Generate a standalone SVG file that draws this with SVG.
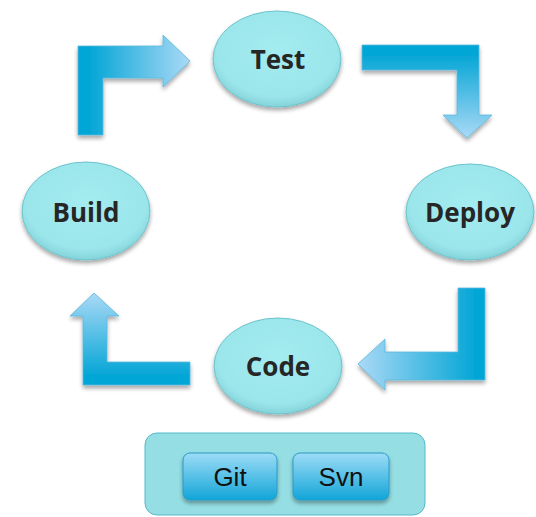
<svg xmlns="http://www.w3.org/2000/svg" width="536" height="517" viewBox="0 0 536 517">
  <defs>
    <radialGradient id="ovalFill" cx="50%" cy="42%" r="60%">
      <stop offset="0" stop-color="#a3ecf0"/>
      <stop offset="0.78" stop-color="#9be6eb"/>
      <stop offset="1" stop-color="#80d0d7"/>
    </radialGradient>
    <linearGradient id="btnFill" x1="0" y1="0" x2="0" y2="1">
      <stop offset="0" stop-color="#9ddcf6"/>
      <stop offset="1" stop-color="#12a5d8"/>
    </linearGradient>
    <linearGradient id="arrRight" gradientUnits="userSpaceOnUse" x1="90" y1="0" x2="190" y2="0">
      <stop offset="0" stop-color="#05a6d6"/>
      <stop offset="1" stop-color="#aad9f6"/>
    </linearGradient>
    <linearGradient id="arrDown" gradientUnits="userSpaceOnUse" x1="0" y1="55" x2="0" y2="138">
      <stop offset="0" stop-color="#05a6d6"/>
      <stop offset="1" stop-color="#aad9f6"/>
    </linearGradient>
    <linearGradient id="arrLeft" gradientUnits="userSpaceOnUse" x1="475" y1="0" x2="358" y2="0">
      <stop offset="0" stop-color="#05a6d6"/>
      <stop offset="1" stop-color="#aad9f6"/>
    </linearGradient>
    <linearGradient id="arrUp" gradientUnits="userSpaceOnUse" x1="0" y1="375" x2="0" y2="293">
      <stop offset="0" stop-color="#05a6d6"/>
      <stop offset="1" stop-color="#aad9f6"/>
    </linearGradient>
    <filter id="shadow" x="-20%" y="-20%" width="140%" height="150%">
      <feGaussianBlur in="SourceAlpha" stdDeviation="2"/>
      <feOffset dy="3" result="b"/>
      <feComponentTransfer><feFuncA type="linear" slope="0.35"/></feComponentTransfer>
      <feMerge><feMergeNode/><feMergeNode in="SourceGraphic"/></feMerge>
    </filter>
  </defs>
  <style>
    .oval { fill: url(#ovalFill); stroke: #6cc3cc; stroke-width: 1; filter: url(#shadow); }
    .olabel { font-family: "Open Sans", "DejaVu Sans", sans-serif; font-weight: bold; font-size: 26px; fill: #262626; text-anchor: middle; }
    .btn { fill: url(#btnFill); stroke: #2a9bc6; stroke-width: 1; filter: url(#shadow); }
    .blabel { font-family: "Liberation Sans", Arial, sans-serif; font-size: 26px; fill: #111; text-anchor: middle; }
    .arrow { stroke: #5cb7dd; stroke-width: 0.8; filter: url(#shadow); }
  </style>

  <!-- connectors: bent block arrows -->
  <g id="connectors">
    <path class="arrow" fill="url(#arrRight)" d="M78,135 L78,46 L163,46 L163,35 L190,61 L163,87 L163,78 L103,78 L103,135 Z"/>
    <path class="arrow" fill="url(#arrDown)" d="M362,45 L479,45 L479,115 L492,115 L467,138 L443,115 L457,115 L457,70 L362,70 Z"/>
    <path class="arrow" fill="url(#arrLeft)" d="M485,288 L485,380 L385,380 L385,390 L358,364 L385,339 L385,352 L458,352 L458,288 Z"/>
    <path class="arrow" fill="url(#arrUp)" d="M190,385 L83,385 L83,316 L70,316 L94,293 L119,316 L107,316 L107,362 L190,362 Z"/>
  </g>

  <g id="node-test">
    <ellipse class="oval" cx="277" cy="59" rx="64" ry="48"/>
    <text class="olabel" x="278" y="69">Test</text>
  </g>
  <g id="node-deploy">
    <ellipse class="oval" cx="470" cy="212" rx="64" ry="48"/>
    <text class="olabel" x="470" y="222">Deploy</text>
  </g>
  <g id="node-code">
    <ellipse class="oval" cx="278" cy="366" rx="64" ry="48"/>
    <text class="olabel" x="278" y="376">Code</text>
  </g>
  <g id="node-build">
    <ellipse class="oval" cx="86" cy="211" rx="64" ry="49"/>
    <text class="olabel" x="86" y="222">Build</text>
  </g>

  <g id="node-vcs">
    <rect x="145" y="433" width="280" height="82" rx="12" fill="#95dfe4" stroke="#55b9c9" stroke-width="1"/>
    <g id="node-git">
      <rect class="btn" x="183" y="453" width="94" height="47" rx="7"/>
      <text class="blabel" x="230" y="486">Git</text>
    </g>
    <g id="node-svn">
      <rect class="btn" x="293" y="453" width="96" height="47" rx="7"/>
      <text class="blabel" x="341" y="486">Svn</text>
    </g>
  </g>
</svg>
